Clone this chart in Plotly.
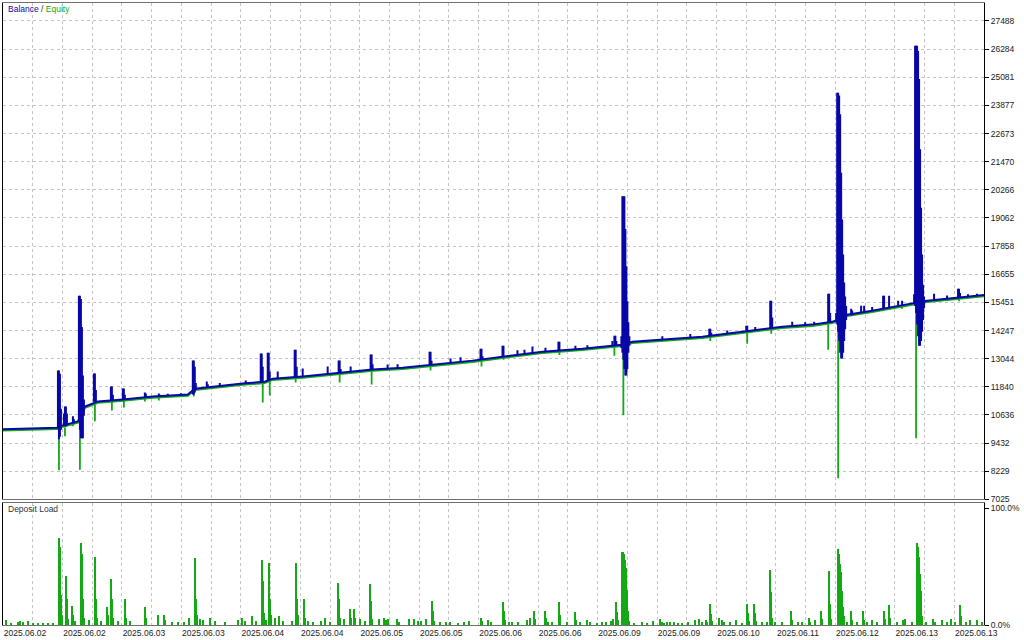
import plotly.graph_objects as go

# ---------------- data ----------------
# x = deal index along the tester timeline (0 .. 982)
base_x = [0, 30, 54, 60, 75, 82, 95, 120, 150, 185, 192, 240, 262, 270, 300, 340, 370, 400,
          430, 470, 500, 540, 580, 610, 620, 630, 660, 700, 740, 780, 810, 830, 835, 845,
          870, 900, 913, 925, 950, 982]
balance_base = [10030, 10050, 10090, 10190, 10360, 11000, 11215, 11300, 11430, 11510, 11760,
                11980, 12060, 12190, 12280, 12450, 12580, 12660, 12790, 12960, 13130, 13340,
                13470, 13600, 13640, 13770, 13860, 13980, 14200, 14410, 14500, 14620, 14700,
                14920, 15090, 15350, 15430, 15520, 15640, 15770]
equity_base = [9975, 9995, 10035, 10135, 10305, 10945, 11160, 11245, 11375, 11455, 11705,
               11925, 12005, 12135, 12225, 12395, 12525, 12605, 12735, 12905, 13075, 13285,
               13415, 13545, 13585, 13715, 13805, 13925, 14145, 14355, 14445, 14565, 14645,
               14865, 15035, 15295, 15375, 15465, 15585, 15715]

# balance excursions: deal, low, high
bal_spike_x = [55, 56, 57, 58, 61, 62, 63, 64, 70, 71, 76, 77, 78, 79, 80, 81, 91, 92, 93,
               108, 109, 110, 120, 121, 122, 142, 143, 156, 157, 165, 178, 190, 191, 192, 193,
               204, 205, 217, 243, 258, 259, 260, 265, 266, 267, 275, 292, 293, 294, 300, 325,
               336, 337, 338, 348, 368, 369, 370, 385, 395, 427, 428, 429, 448, 458, 478, 479,
               480, 500, 501, 515, 522, 530, 543, 556, 557, 573, 585, 610, 612, 613, 614,
               619, 620, 621, 622, 623, 624, 625, 626, 627, 660, 688, 707, 708, 709, 725,
               744, 745, 753, 768, 769, 770, 790, 803, 812, 826, 827, 828,
               834, 835, 836, 837, 838, 839, 840, 841, 842, 843, 844,
               849, 850, 859, 862, 870, 881, 882, 887, 896, 900,
               912, 913, 914, 915, 916, 917, 918, 919, 920, 921, 922,
               932, 945, 956, 957, 958, 966, 975]
bal_spike_lo = [10090, 9596, 9700, 10000, 10190, 10150, 10150, 10190, 10280, 10280, 10360,
                10000, 9639, 9639, 9639, 10600, 11200, 11200, 11200, 11280, 11280, 11280,
                11300, 11300, 11300, 11400, 11400, 11430, 11430, 11460, 11490, 11510, 11510,
                11600, 11700, 11800, 11800, 11850, 11990, 12040, 12040, 12040, 12120, 12150,
                12150, 12200, 12270, 12270, 12270, 12280, 12390, 12440, 12440, 12440, 12470,
                12570, 12570, 12570, 12620, 12640, 12780, 12780, 12780, 12870, 12900, 12990,
                12990, 12990, 13130, 13130, 13200, 13230, 13290, 13350, 13400, 13400, 13450,
                13480, 13590, 13590, 13590, 13600,
                13500, 13300, 13000, 12600, 12322, 12322, 12600, 13300, 13600, 13850, 13950,
                14020, 14020, 14020, 14100, 14220, 14220, 14260, 14350, 14350, 14350, 14430,
                14480, 14500, 14580, 14580, 14600,
                14600, 14500, 14200, 13800, 13300, 13047, 13047, 13300, 13800, 14300, 14700,
                14900, 14900, 15000, 15050, 15090, 15200, 15200, 15250, 15320, 15340,
                15400, 15300, 15000, 14500, 14000, 13600, 13600, 13800, 14200, 14700, 15200,
                15550, 15600, 15650, 15650, 15660, 15690, 15730]
bal_spike_hi = [12535, 12535, 12400, 10900, 10700, 11002, 11002, 10700, 10576, 10450, 15730,
                15730, 15600, 14400, 12322, 11300, 12408, 12408, 11700, 11854, 11854, 11500,
                11769, 11769, 11500, 11599, 11550, 11556, 11500, 11540, 11560, 12961, 12961,
                12700, 12000, 12067, 11950, 12000, 12110, 13260, 13260, 12700, 13302, 13302,
                12500, 12500, 13430, 13430, 12700, 12621, 12706, 12961, 12961, 12600, 12706,
                13217, 13217, 12800, 12790, 12800, 13345, 13345, 12950, 13050, 13100, 13473,
                13473, 13150, 13600, 13600, 13400, 13420, 13560, 13510, 13771, 13771, 13600,
                13620, 13800, 14026, 14026, 13800,
                14000, 19990, 19990, 19990, 18585, 17000, 15500, 14600, 14000, 14000, 14100,
                14325, 14325, 14150, 14250, 14453, 14453, 14400, 15518, 15518, 14800, 14623,
                14600, 14620, 15816, 15816, 15000,
                15000, 24421, 24421, 24300, 23500, 21000, 19000, 17500, 16300, 15700, 15300,
                15177, 15100, 15305, 15305, 15250, 15730, 15730, 15730, 15518, 15518,
                15800, 26423, 26423, 26423, 26200, 25000, 22000, 19500, 17500, 16200, 15700,
                15816, 15750, 16029, 16029, 15850, 15800, 15820]

# equity excursions: deal, low, high
eq_spike_x = [56, 62, 70, 77, 92, 109, 121, 142, 156, 191, 260, 267, 293, 337, 369, 428, 479,
              501, 557, 612, 621, 708, 745, 769, 826, 836, 882, 900, 914, 957]
eq_spike_lo = [8275, 9724, 10150, 8289, 10363, 10832, 10959, 11215, 11257, 11430, 11172, 11470,
               12024, 12024, 11939, 12535, 12706, 13000, 13200, 13174, 10619, 13800, 13686,
               14112, 13430, 7935, 15177, 15177, 9639, 15500]
eq_spike_hi = [10030, 10100, 10300, 10300, 11150, 11240, 11240, 11370, 11370, 11700, 12000,
               12100, 12220, 12390, 12520, 12730, 12930, 13070, 13350, 13540, 13580, 13960,
               14140, 14290, 14560, 14640, 15250, 15290, 15370, 15620]

# deposit load, percent
load_x = [3, 8, 15, 17, 20, 25, 30, 35, 40, 45, 50,
          56, 57, 58, 59, 63, 64, 65, 69, 70, 72, 78, 79, 80, 81, 86, 92, 93, 94, 98,
          104, 105, 108, 109, 110, 115, 122, 123, 127, 142, 143, 155, 161, 162, 169, 175,
          181, 186, 192, 193, 194, 197, 200, 207, 212, 222, 235, 239, 242, 249, 253,
          259, 260, 261, 263, 266, 267, 268, 272, 276, 280, 289, 293, 294, 295, 301, 302,
          305, 310, 318, 322, 327, 335, 336, 337, 341, 347, 348, 351, 352, 357, 362,
          367, 368, 369, 376, 381, 383, 385, 394, 396, 406, 411, 415, 418, 423, 429, 430,
          431, 437, 443, 447, 456, 462, 467, 479, 480, 486, 489, 501, 502, 503, 507, 510,
          516, 525, 528, 532, 533, 543, 544, 546, 550, 557, 558, 565, 573, 574, 578, 585,
          588, 595, 600, 604, 609, 611, 614, 615, 616, 620, 621, 622, 623, 624, 625, 626,
          627, 632, 640, 645, 651, 658, 660, 662, 665, 668, 672, 676, 680, 686, 693, 697,
          700, 704, 705, 708, 709, 710, 717, 720, 722, 728, 734, 740, 745, 746, 747, 752,
          753, 754, 760, 765, 768, 769, 770, 773, 780, 789, 790, 796, 800, 807, 808, 813,
          819, 820, 827, 828, 829, 836, 837, 838, 839, 840, 841, 842, 845, 849, 850, 855,
          861, 862, 865, 870, 875, 882, 883, 887, 888, 895, 901, 903, 910, 915, 916, 917,
          918, 919, 920, 924, 931, 933, 940, 945, 949, 953, 958, 959, 964, 968, 975, 980]
load_pct = [4, 1, 2, 3, 2, 3, 1, 1, 1, 1, 1,
            74, 66, 25, 8, 42, 22, 5, 16, 8, 3, 70, 60, 22, 6, 4, 58, 22, 6, 3,
            15, 8, 39, 22, 6, 3, 22, 6, 3, 15, 6, 8, 8, 4, 2, 2,
            2, 6, 57, 22, 8, 5, 4, 6, 3, 2, 4, 6, 3, 7, 3,
            55, 37, 10, 4, 53, 22, 8, 6, 7, 3, 3, 53, 22, 8, 22, 6,
            3, 2, 3, 6, 2, 36, 22, 6, 5, 13, 6, 13, 6, 5, 3,
            35, 20, 5, 5, 6, 4, 5, 5, 2, 5, 5, 3, 3, 5, 20, 12,
            3, 2, 2, 2, 1, 2, 3, 6, 3, 4, 2, 19, 12, 4, 2, 2,
            2, 4, 6, 12, 5, 12, 6, 2, 2, 19, 8, 2, 11, 4, 2, 4,
            2, 1, 2, 2, 3, 5, 19, 11, 4, 62, 62, 60, 55, 48, 30, 12,
            3, 1, 2, 1, 3, 5, 2, 1, 2, 2, 2, 1, 1, 2, 4, 5,
            2, 4, 2, 18, 9, 3, 6, 4, 2, 2, 4, 1, 18, 10, 3, 18,
            10, 3, 2, 2, 47, 28, 6, 2, 2, 12, 4, 2, 2, 6, 2, 4,
            12, 5, 46, 18, 5, 65, 60, 52, 45, 29, 15, 7, 2, 12, 4, 2,
            12, 4, 2, 4, 2, 12, 5, 17, 6, 2, 4, 5, 2, 70, 66, 58,
            43, 29, 7, 2, 5, 2, 4, 2, 5, 2, 17, 7, 2, 4, 4, 2]

balance_ticks = [7025, 8229, 9432, 10636, 11840, 13044, 14247, 15451, 16655, 17858, 19062,
                 20266, 21470, 22673, 23877, 25081, 26284, 27488]
date_labels = ["2025.06.02", "2025.06.02", "2025.06.03", "2025.06.03", "2025.06.04",
               "2025.06.04", "2025.06.05", "2025.06.05", "2025.06.06", "2025.06.06",
               "2025.06.09", "2025.06.09", "2025.06.10", "2025.06.11", "2025.06.12",
               "2025.06.13", "2025.06.13"]
load_ticks = [0, 100]
load_labels = ["0.0%", "100.0%"]

# ---------------- styling ----------------
BLUE = "#0808A8"
GREEN = "#14A814"
GRID = "#C4C4C4"
FONT = dict(family="Liberation Sans, Arial, sans-serif", size=8.5, color="#1A1A1A")
X_MAX = 982
N_GRID = 33


def segments(xs, lo, hi):
    X, Y = [], []
    for a, b, c in zip(xs, lo, hi):
        X += [a, a, None]
        Y += [b, c, None]
    return X, Y


fig = go.Figure()

gx, gy = segments(eq_spike_x, eq_spike_lo, eq_spike_hi)
fig.add_trace(go.Scatter(x=base_x, y=equity_base, mode="lines",
                         line=dict(color=GREEN, width=2), xaxis="x", yaxis="y"))
fig.add_trace(go.Scatter(x=gx, y=gy, mode="lines", connectgaps=False,
                         line=dict(color=GREEN, width=1.8), xaxis="x", yaxis="y"))
bx, by = segments(bal_spike_x, bal_spike_lo, bal_spike_hi)
fig.add_trace(go.Scatter(x=base_x, y=balance_base, mode="lines",
                         line=dict(color=BLUE, width=2), xaxis="x", yaxis="y"))
fig.add_trace(go.Scatter(x=bx, y=by, mode="lines", connectgaps=False,
                         line=dict(color=BLUE, width=2), xaxis="x", yaxis="y"))

fig.add_trace(go.Bar(x=load_x, y=load_pct, width=1.1, marker=dict(color=GREEN, line_width=0),
                     xaxis="x2", yaxis="y2"))

grid_vals = [i * X_MAX / N_GRID for i in range(N_GRID + 1)]
grid_text = [date_labels[i // 2] if i % 2 == 0 else "" for i in range(N_GRID + 1)]

common_x = dict(range=[0, X_MAX], tickvals=grid_vals, showgrid=True, gridcolor=GRID,
                griddash="3px,3px", gridwidth=1, zeroline=False, showline=True,
                linecolor="#707070", linewidth=1, mirror=True, fixedrange=True)

H_TOTAL = 624.0
main_bottom = (627 - 501) / H_TOTAL
load_top = (627 - 505) / H_TOTAL

fig.update_layout(
    width=1024, height=640,
    margin=dict(l=2, r=40, t=3, b=13),
    paper_bgcolor="white", plot_bgcolor="white",
    showlegend=False, font=FONT, bargap=0,
    xaxis=dict(domain=[0, 1], anchor="y", showticklabels=False, ticks="", **common_x),
    xaxis2=dict(domain=[0, 1], anchor="y2", matches="x", ticktext=grid_text,
                showticklabels=True, ticks="", ticklabelshift=22, ticklabelstandoff=0,
                tickfont=FONT, **common_x),
    yaxis=dict(domain=[main_bottom, 1], anchor="x", side="right", range=[7025, 28255],
               tickvals=balance_ticks, ticktext=[str(v) for v in balance_ticks],
               showgrid=True, gridcolor=GRID, griddash="3px,3px", zeroline=False,
               ticks="outside", ticklen=4, tickcolor="#000000", showline=True,
               linecolor="#000000", linewidth=1, mirror=True, tickfont=FONT,
               fixedrange=True),
    yaxis2=dict(domain=[0, load_top], anchor="x2", side="right", range=[0, 104],
                tickvals=load_ticks, ticktext=load_labels, showgrid=False, zeroline=False,
                ticks="outside", ticklen=4, tickcolor="#000000", showline=True,
                linecolor="#000000", linewidth=1, mirror=True, tickfont=FONT,
                fixedrange=True),
)

fig.add_annotation(xref="paper", yref="paper", x=3 / 982, y=(627 - 9) / H_TOTAL,
                   xanchor="left", yanchor="middle", showarrow=False,
                   text=f'<span style="color:{BLUE}">Balance</span> / '
                        f'<span style="color:{GREEN}">Equity</span>',
                   font=dict(family=FONT["family"], size=8.5, color="#333333"))
fig.add_annotation(xref="paper", yref="paper", x=3 / 982, y=(627 - 511) / H_TOTAL,
                   xanchor="left", yanchor="middle", showarrow=False,
                   text="Deposit Load",
                   font=dict(family=FONT["family"], size=8.5, color="#333333"))

fig.write_html("out.html", config={"displayModeBar": False},
               post_script="document.body.style.margin='0';document.body.style.padding='0';")
